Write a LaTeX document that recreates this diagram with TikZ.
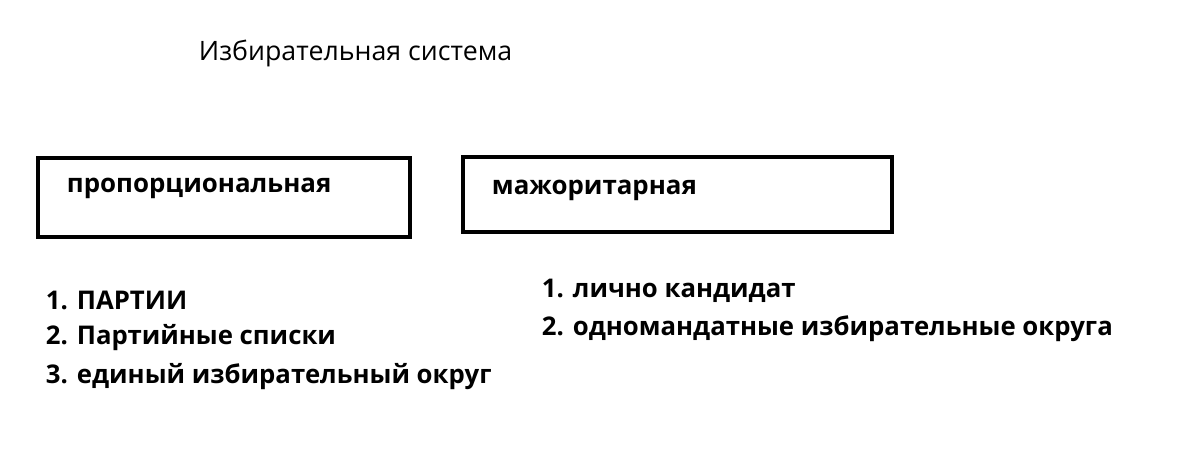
\documentclass[tikz,border=0pt]{standalone}
\usepackage{fontspec}
\setmainfont{Open Sans}
\usetikzlibrary{positioning}
\tikzset{
  kind/.style={draw, line width=2.2pt},
  boxtext/.style={anchor=west, font=\bfseries\fontsize{18.4}{22}\selectfont},
  listitem/.style={anchor=west, font=\bfseries\fontsize{18.3}{22}\selectfont}
}
\begin{document}
\begin{tikzpicture}[x=0.025cm, y=-0.025cm]
		\useasboundingbox (0,0) rectangle (1200,448);
		
		% title
		\node[anchor=west, font=\fontsize{19}{23}\selectfont] (title) at (194,53) {Избирательная система};
		
		% boxes
		\draw[kind] (38,158) rectangle (410,237);
		\draw[kind] (463,157) rectangle (892,232);
		\node[boxtext] (prop) at (62,188) {пропорциональная};
		\node[boxtext] (major) at (487,190) {мажоритарная};
		
		% proportional
		\node[listitem] (p1) at (41,300) {1. ПАРТИИ};
		\node[listitem] (p2) at (41,338) {2. Партийные списки};
		\node[listitem] (p3) at (41,377) {3. единый избирательный округ};
		
		% majoritarian
		\node[listitem] (m1) at (537,291) {1. лично кандидат};
		\node[listitem] (m2) at (537,329) {2. одномандатные избирательные округа};
		
	\end{tikzpicture}
\end{document}
